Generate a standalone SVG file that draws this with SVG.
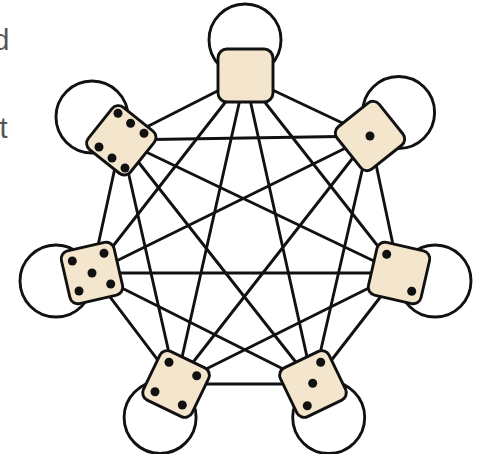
<svg xmlns="http://www.w3.org/2000/svg" width="485" height="454" viewBox="0 0 485 454">
<style>
.loop{fill:none;stroke:#111;stroke-width:2.9}
.edge{stroke:#111;stroke-width:2.9;stroke-linecap:round}
.die{fill:#f4e6cd;stroke:#111;stroke-width:2.9}
.pip{fill:#111}
.txt{font-family:"Liberation Sans",Arial,sans-serif;font-size:29px;fill:#555;text-anchor:end}
</style>
<rect width="485" height="454" fill="#fff"/>
<text class="txt" x="9.5" y="50">d</text>
<text class="txt" x="7.5" y="138">t</text>
<g id="loops">
<circle class="loop" cx="245" cy="40" r="36"/>
<circle class="loop" cx="398.6" cy="112.5" r="36"/>
<circle class="loop" cx="435" cy="281" r="36"/>
<circle class="loop" cx="328.7" cy="417.5" r="36"/>
<circle class="loop" cx="160.1" cy="417.4" r="36"/>
<circle class="loop" cx="56" cy="281" r="36"/>
<circle class="loop" cx="92" cy="117" r="36"/>
</g>
<g id="connectors">
<line class="edge" x1="245" y1="77" x2="370" y2="136"/>
<line class="edge" x1="245" y1="77" x2="399" y2="273"/>
<line class="edge" x1="245" y1="77" x2="313" y2="384"/>
<line class="edge" x1="245" y1="77" x2="176" y2="384"/>
<line class="edge" x1="245" y1="77" x2="92" y2="273"/>
<line class="edge" x1="245" y1="77" x2="121" y2="140"/>
<line class="edge" x1="370" y1="136" x2="399" y2="273"/>
<line class="edge" x1="370" y1="136" x2="313" y2="384"/>
<line class="edge" x1="370" y1="136" x2="176" y2="384"/>
<line class="edge" x1="370" y1="136" x2="92" y2="273"/>
<line class="edge" x1="370" y1="136" x2="121" y2="140"/>
<line class="edge" x1="399" y1="273" x2="313" y2="384"/>
<line class="edge" x1="399" y1="273" x2="176" y2="384"/>
<line class="edge" x1="399" y1="273" x2="92" y2="273"/>
<line class="edge" x1="399" y1="273" x2="121" y2="140"/>
<line class="edge" x1="313" y1="384" x2="176" y2="384"/>
<line class="edge" x1="313" y1="384" x2="92" y2="273"/>
<line class="edge" x1="313" y1="384" x2="121" y2="140"/>
<line class="edge" x1="176" y1="384" x2="92" y2="273"/>
<line class="edge" x1="176" y1="384" x2="121" y2="140"/>
<line class="edge" x1="92" y1="273" x2="121" y2="140"/>
</g>
<g id="n0" transform="translate(245.5,76)">
<rect class="die" x="-27.5" y="-27" width="55" height="53" rx="9"/>
</g>
<g id="n1" transform="translate(370,136)">
<rect class="die" x="-27" y="-27" width="54" height="54" rx="8" transform="rotate(51.4)"/>
<circle class="pip" cx="0" cy="0" r="4.5"/>
</g>
<g id="n2" transform="translate(399,273)">
<rect class="die" x="-27" y="-27" width="54" height="54" rx="8" transform="rotate(102.9)"/>
<circle class="pip" cx="-12.3" cy="-18.7" r="4.5"/>
<circle class="pip" cx="12.7" cy="18.3" r="4.5"/>
</g>
<g id="n3" transform="translate(313,384)">
<rect class="die" x="-27" y="-27" width="54" height="54" rx="8" transform="rotate(154.3)"/>
<circle class="pip" cx="7.7" cy="-21.7" r="4.5"/>
<circle class="pip" cx="-0.3" cy="-0.7" r="4.5"/>
<circle class="pip" cx="-5.7" cy="21.7" r="4.5"/>
</g>
<g id="n4" transform="translate(176,384)">
<rect class="die" x="-27" y="-27" width="54" height="54" rx="8" transform="rotate(205.7)"/>
<circle class="pip" cx="-7" cy="-21.7" r="4.5"/>
<circle class="pip" cx="20.7" cy="-8.3" r="4.5"/>
<circle class="pip" cx="-21" cy="7.7" r="4.5"/>
<circle class="pip" cx="6.3" cy="21" r="4.5"/>
</g>
<g id="n5" transform="translate(92,273)">
<rect class="die" x="-27" y="-27" width="54" height="54" rx="8" transform="rotate(257.1)"/>
<circle class="pip" cx="-19.7" cy="-12" r="4.5"/>
<circle class="pip" cx="12" cy="-19.7" r="4.5"/>
<circle class="pip" cx="0" cy="0" r="4.5"/>
<circle class="pip" cx="-13" cy="18" r="4.5"/>
<circle class="pip" cx="18.7" cy="11" r="4.5"/>
</g>
<g id="n6" transform="translate(121.3,140.3)">
<rect class="die" x="-27" y="-27" width="54" height="54" rx="8" transform="rotate(308.6)"/>
<circle class="pip" cx="-3.3" cy="-27" r="4.5"/>
<circle class="pip" cx="9.3" cy="-17" r="4.5"/>
<circle class="pip" cx="22.7" cy="-7" r="4.5"/>
<circle class="pip" cx="-22.3" cy="6.7" r="4.5"/>
<circle class="pip" cx="-9.3" cy="17.7" r="4.5"/>
<circle class="pip" cx="3.7" cy="27.7" r="4.5"/>
</g>
</svg>
